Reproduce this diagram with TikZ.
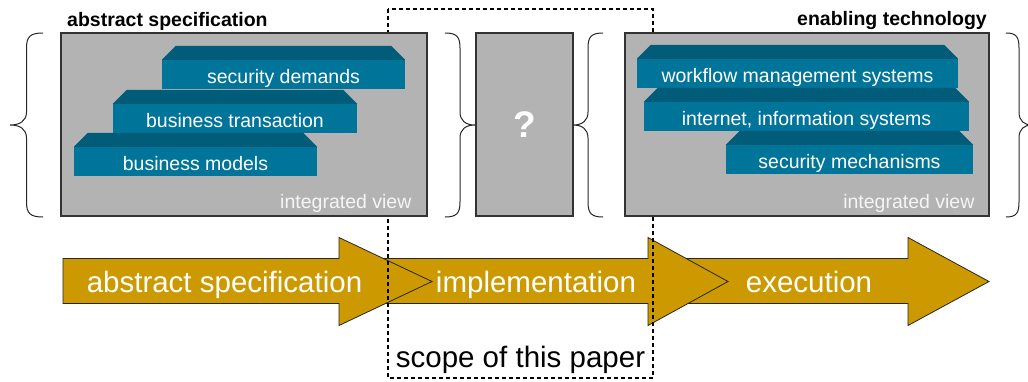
\documentclass[tikz,border=0pt]{standalone}
\usepackage{fontspec}
\setmainfont{Liberation Sans}
\usetikzlibrary{positioning}

\definecolor{viewgray}{RGB}{179,179,179}
\definecolor{slabfront}{RGB}{0,116,153}
\definecolor{slabroof}{RGB}{0,92,120}
\definecolor{stagegold}{RGB}{204,153,0}

\tikzset{
  view/.style={draw=black!80, line width=1.2pt, fill=viewgray, inner sep=0pt, minimum height=183pt},
  slab/.style={fill=slabfront, text=white, inner sep=0pt, minimum height=29pt,
    text height=19pt, text depth=2pt, font=\fontsize{19.5}{19.5}\selectfont},
  roof/.style={fill=slabroof},
  viewlabel/.style={text=white!96!black, inner sep=0pt, font=\fontsize{19.5}{19.5}\selectfont},
  heading/.style={inner sep=0pt, font=\fontsize{19.5}{20}\selectfont\bfseries},
  stage/.style={fill=stagegold, draw=black!85, line width=0.8pt},
  stagelabel/.style={text=white, inner sep=0pt, font=\fontsize{29.5}{29.5}\selectfont},
  scopeline/.style={draw=black, line width=1.2pt, dash pattern=on 4pt off 3pt},
  curly/.style={draw=black!85, line width=1pt}
}

% brace with its tip at x=#1, signed width #2
\newcommand{\sidebrace}[2]{%
  \draw[curly] ({#1+2*(#2)},33) .. controls ({#1+1.2*(#2)},33) and ({#1+(#2)},37) .. ({#1+(#2)},48)
    -- ({#1+(#2)},112) .. controls ({#1+(#2)},121) and ({#1+0.6*(#2)},125) .. (#1,125)
    .. controls ({#1+0.6*(#2)},125) and ({#1+(#2)},129) .. ({#1+(#2)},138)
    -- ({#1+(#2)},202) .. controls ({#1+(#2)},213) and ({#1+1.2*(#2)},217) .. ({#1+2*(#2)},217);}

% top face of a slab node
\newcommand{\slabtop}[1]{%
  \fill[roof] (#1.north west) -- ++(14,-14) -- ([xshift=-14pt,yshift=14pt]#1.north east) -- (#1.north east) -- cycle;}

% phase arrow: shaft start, head start, tip
\newcommand{\stagearrow}[3]{%
  \filldraw[stage] (#1,258.5) -- (#2,258.5) -- (#2,237.5) -- (#3,281.5) -- (#2,325.5) -- (#2,303.5) -- (#1,303.5) -- cycle;}

\begin{document}
\begin{tikzpicture}[x=1pt, y=-1pt]
\useasboundingbox (0,0) rectangle (1028,381);

% phases
\stagearrow{680}{908}{989}
\stagearrow{380}{648}{728}
\stagearrow{63}{339}{432}
\node[stagelabel, anchor=base] (specphase) at (224.5,292) {abstract specification};
\node[stagelabel, anchor=base] (implphase) at (536,292) {implementation};
\node[stagelabel, anchor=base] (execphase) at (809,292) {execution};

% scope
\draw[scopeline] (388,9) rectangle (653,378);
\node[anchor=base, inner sep=0pt, font=\fontsize{29.5}{29.5}\selectfont] (scope) at (520.5,367) {scope of this paper};

% views
\node[view, minimum width=366pt] (specview) at (244,124.5) {};
\node[view, minimum width=97pt] (gapview) at (524.5,124.5) {};
\node[text=white, font=\fontsize{37}{37}\selectfont\bfseries] (gap) at (gapview) {?};
\node[view, minimum width=364pt] (techview) at (807,124.5) {};

\node[heading, anchor=base west] (spectitle) at (67,26) {abstract specification};
\node[heading, anchor=base east] (techtitle) at (987,25) {enabling technology};

\node[viewlabel, anchor=base east, xshift=-16pt, yshift=8pt] (specint) at (specview.south east) {integrated view};
\node[viewlabel, anchor=base east, xshift=-15pt, yshift=8pt] (techint) at (techview.south east) {integrated view};

% abstract specification layers
\node[slab, minimum width=243pt] (secdemands) at (283.5,74.5) {security demands};
\slabtop{secdemands}
\node[slab, minimum width=244pt] (transaction) at (235,118.5) {business transaction};
\slabtop{transaction}
\node[slab, minimum width=243pt] (models) at (195.5,161.5) {business models};
\slabtop{models}

% technology layers
\node[slab, minimum width=321pt] (workflow) at (797.5,73.5) {workflow management systems};
\slabtop{workflow}
\node[slab, minimum width=325pt] (infosys) at (806.5,116.5) {internet, information systems};
\slabtop{infosys}
\node[slab, minimum width=247pt] (secmech) at (849.5,159.5) {security mechanisms};
\slabtop{secmech}

% braces
\sidebrace{10}{16.5}
\sidebrace{475}{-15}
\sidebrace{573}{15}
\sidebrace{1032}{-13}
\end{tikzpicture}
\end{document}
